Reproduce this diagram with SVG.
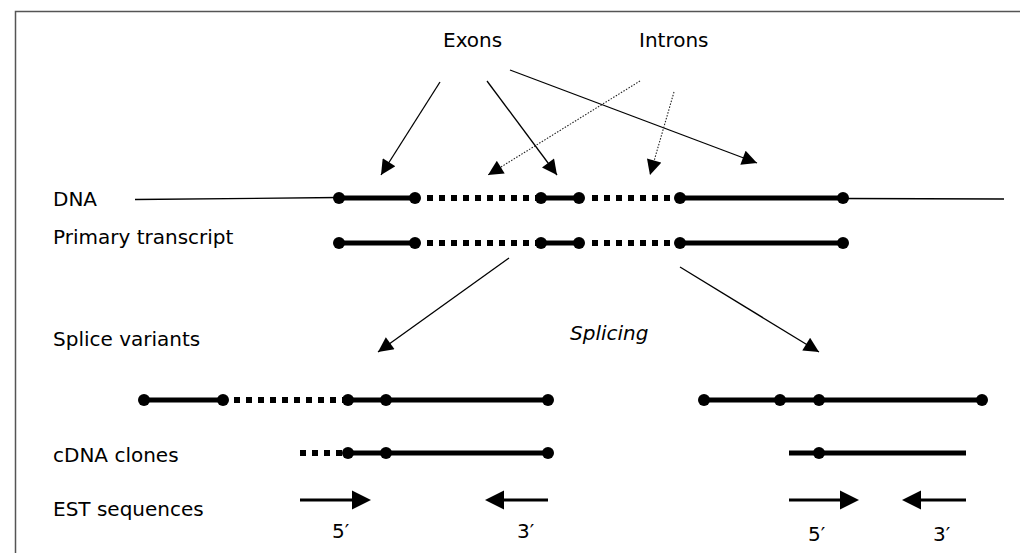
<svg xmlns="http://www.w3.org/2000/svg" width="1020" height="553" viewBox="0 0 1020 553">
<style>
text{font-family:"DejaVu Sans","Liberation Sans",sans-serif;font-size:20px;fill:#000}
.it{font-style:italic}
.thin{stroke:#000;stroke-width:1.3;fill:none}
.dot{stroke:#222;stroke-width:1.1;stroke-dasharray:1.5 1.5;fill:none}
.thick{stroke:#000;stroke-width:5;fill:none}
.intr{stroke:#000;stroke-width:6;stroke-dasharray:6 6;fill:none}
.est{stroke:#000;stroke-width:3;fill:none}
circle{fill:#000}
</style>
<defs>
<marker id="ah" viewBox="0 0 10 10" refX="10" refY="5" markerUnits="userSpaceOnUse" markerWidth="17" markerHeight="15" orient="auto">
<path d="M0,0 L10,5 L0,10 z" fill="#000"/>
</marker>
</defs>
<rect x="15.5" y="11.5" width="1012" height="560" fill="#fff" stroke="#555" stroke-width="1.5"/>

<g id="labels">
<text x="443" y="47">Exons</text>
<text x="639" y="47">Introns</text>
<text x="53" y="206">DNA</text>
<text x="53" y="244">Primary transcript</text>
<text x="53" y="346">Splice variants</text>
<text class="it" x="570" y="340">Splicing</text>
<text x="53" y="462">cDNA clones</text>
<text x="53" y="516">EST sequences</text>
<text x="332" y="538">5′</text>
<text x="517" y="538">3′</text>
<text x="808" y="541">5′</text>
<text x="933" y="541">3′</text>
</g>

<g id="dna">
<line class="thin" x1="135" y1="199.5" x2="339" y2="197.5"/>
<line class="thin" x1="843" y1="198.5" x2="1004" y2="199"/>
<line class="thick" x1="339" y1="198" x2="415" y2="198"/>
<line class="intr" x1="427" y1="198" x2="538" y2="198"/>
<line class="thick" x1="541" y1="198" x2="579" y2="198"/>
<line class="intr" x1="592" y1="198" x2="675" y2="198"/>
<line class="thick" x1="680" y1="198" x2="843" y2="198"/>
<circle cx="339" cy="198" r="6"/><circle cx="415" cy="198" r="6"/>
<circle cx="541" cy="198" r="6"/><circle cx="579" cy="198" r="6"/>
<circle cx="680" cy="198" r="6"/><circle cx="843" cy="198" r="6"/>
</g>

<g id="primary-transcript">
<line class="thick" x1="339" y1="243" x2="415" y2="243"/>
<line class="intr" x1="427" y1="243" x2="538" y2="243"/>
<line class="thick" x1="541" y1="243" x2="579" y2="243"/>
<line class="intr" x1="592" y1="243" x2="675" y2="243"/>
<line class="thick" x1="680" y1="243" x2="843" y2="243"/>
<circle cx="339" cy="243" r="6"/><circle cx="415" cy="243" r="6"/>
<circle cx="541" cy="243" r="6"/><circle cx="579" cy="243" r="6"/>
<circle cx="680" cy="243" r="6"/><circle cx="843" cy="243" r="6"/>
</g>

<g id="splice-variant-1">
<line class="thick" x1="144" y1="400" x2="223" y2="400"/>
<line class="intr" x1="234" y1="400" x2="345" y2="400"/>
<line class="thick" x1="348" y1="400" x2="548" y2="400"/>
<circle cx="144" cy="400" r="6"/><circle cx="223" cy="400" r="6"/>
<circle cx="348" cy="400" r="6"/><circle cx="386" cy="400" r="6"/>
<circle cx="548" cy="400" r="6"/>
</g>

<g id="splice-variant-2">
<line class="thick" x1="704" y1="400" x2="982" y2="400"/>
<circle cx="704" cy="400" r="6"/><circle cx="780" cy="400" r="6"/>
<circle cx="819" cy="400" r="6"/><circle cx="982" cy="400" r="6"/>
</g>

<g id="cdna-1">
<line class="intr" x1="300" y1="453" x2="342" y2="453"/>
<line class="thick" x1="345" y1="453" x2="548" y2="453"/>
<circle cx="348" cy="453" r="6"/><circle cx="386" cy="453" r="6"/>
<circle cx="548" cy="453" r="6"/>
</g>

<g id="cdna-2">
<line class="thick" x1="789" y1="453" x2="966" y2="453"/>
<circle cx="819" cy="453" r="6"/>
</g>

<g id="est-1">
<line class="est" x1="300" y1="500" x2="354" y2="500"/>
<polygon points="352,490.5 371,500 352,509.5"/>
<line class="est" x1="548" y1="500" x2="502" y2="500"/>
<polygon points="504,490.5 485,500 504,509.5"/>
</g>

<g id="est-2">
<line class="est" x1="789" y1="500" x2="842" y2="500"/>
<polygon points="840,490.5 859,500 840,509.5"/>
<line class="est" x1="966" y1="500" x2="919" y2="500"/>
<polygon points="921,490.5 902,500 921,509.5"/>
</g>

<g id="connectors">
<line class="thin" x1="440" y1="82" x2="381" y2="175" marker-end="url(#ah)"/>
<line class="thin" x1="487" y1="81" x2="557" y2="175" marker-end="url(#ah)"/>
<line class="thin" x1="510" y1="70" x2="757" y2="163" marker-end="url(#ah)"/>
<line class="dot" x1="640" y1="81" x2="488" y2="175" marker-end="url(#ah)"/>
<line class="dot" x1="674" y1="92" x2="650" y2="175" marker-end="url(#ah)"/>
<line class="thin" x1="509" y1="258" x2="378" y2="352" marker-end="url(#ah)"/>
<line class="thin" x1="680" y1="267" x2="819" y2="352" marker-end="url(#ah)"/>
</g>
</svg>
